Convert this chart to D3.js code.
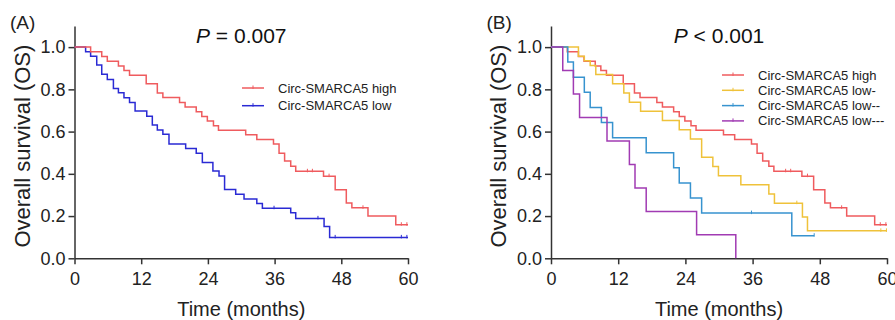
<!DOCTYPE html>
<html>
<head>
<meta charset="utf-8">
<script src="https://cdn.jsdelivr.net/npm/d3@7/dist/d3.min.js"></script>
<style>
  body { margin: 0; background: #fff; }
  svg { display: block; font-family: "Liberation Sans", Arial, sans-serif; }
</style>
</head>
<body>
<div id="chart"></div>
<script>
// --- Data (months, survival probability) ---
const xTicks = [0, 12, 24, 36, 48, 60];
const yTicks = [0, 0.2, 0.4, 0.6, 0.8, 1.0];

// Circ-SMARCA5 high (same group in both panels)
const highTimes = [0, 2.9, 4.9, 5.9, 7.9, 8.9, 9.9, 12.9, 14.9, 15.9, 18.9, 19.9, 21.9, 22.9, 23.9, 25.0, 25.9,
                   30.8, 32.8, 35.8, 36.8, 37.8, 38.9, 39.8, 44.8, 46.9, 48.9, 49.9, 52.8, 57.8];
const highSurv = [1, 0.978, 0.956, 0.933, 0.911, 0.889, 0.867, 0.826, 0.783, 0.761, 0.738, 0.716, 0.694, 0.672, 0.650, 0.628, 0.606,
                  0.585, 0.563, 0.541, 0.497, 0.461, 0.436, 0.412, 0.389, 0.325, 0.262, 0.239, 0.200, 0.159];
const highCensor = [41.9, 42.8, 45.8, 51.9, 58.8, 59.8];
const highEnd = 60;

// Panel A: Circ-SMARCA5 low
const lowTimes = [0, 2.0, 2.9, 4.0, 4.9, 5.9, 7.0, 7.9, 8.9, 9.9, 10.9, 13.0, 14.0, 14.9, 15.9, 17.0, 20.0, 21.9,
                  23.0, 24.9, 26.0, 27.0, 29.0, 30.5, 32.8, 33.8, 38.9, 39.8, 44.9, 45.9];
const lowSurv = [1, 0.978, 0.957, 0.915, 0.871, 0.847, 0.804, 0.784, 0.760, 0.738, 0.697, 0.673, 0.631, 0.607, 0.587, 0.541, 0.520, 0.497,
                 0.454, 0.413, 0.390, 0.326, 0.303, 0.281, 0.260, 0.237, 0.216, 0.189, 0.151, 0.099];
const lowCensor = [35.9, 43.8, 46.9, 58.8, 59.8];
const lowEnd = 60;

// Panel B: low-, low--, low---
const low1Times = [0, 4.9, 5.95, 7.0, 8.0, 11.0, 13.0, 14.0, 16.0, 19.9, 22.9, 24.9, 26.9, 28.9, 29.9, 33.9, 38.9, 39.9, 44.9, 45.8];
const low1Surv = [1, 0.957, 0.935, 0.913, 0.870, 0.826, 0.783, 0.739, 0.696, 0.652, 0.609, 0.565, 0.478, 0.435, 0.391, 0.348, 0.304, 0.261, 0.196, 0.130];
const low1Censor = [43.9, 58.9, 59.9];
const low1End = 60;

const low2Times = [0, 3.0, 4.0, 5.95, 7.0, 9.0, 11.0, 17.0, 21.9, 22.9, 24.9, 26.9, 43.0];
const low2Surv = [1, 0.929, 0.857, 0.786, 0.714, 0.643, 0.571, 0.5, 0.429, 0.357, 0.286, 0.214, 0.107];
const low2Censor = [35.8, 47];
const low2End = 47;

const low3Times = [0, 2.1, 4.0, 5.1, 10.0, 14.0, 15.0, 17.0, 26.0, 33.0];
const low3Surv = [1, 0.889, 0.778, 0.667, 0.556, 0.444, 0.333, 0.222, 0.111, 0];
const low3Censor = [];
const low3End = 33;

const names = ['Circ-SMARCA5 high', 'Circ-SMARCA5 low', 'Circ-SMARCA5 low-', 'Circ-SMARCA5 low--', 'Circ-SMARCA5 low---'];

const W = 895, H = 320;
const svg = d3.select('#chart').append('svg')
    .attr('width', W)
    .attr('height', H)
    .attr('viewBox', [0, 0, W, H]);

const COL = {
    high: '#ef5b5e',
    low: '#2a2ad4',
    low1: '#efc23a',
    low2: '#3793cf',
    low3: '#a13bb3'
};

function series(name, times, surv, censor, end, color) {
    return { name, times, surv, censor, end, color };
}

const panels = [
    {
        x0: 74.5, x1: 408, tag: '(A)', pOp: ' = 0.007',
        legendX: 242, legendY: 88, legendStep: 17.7,
        // draw order: blue under red
        draw: [
            series(names[1], lowTimes, lowSurv, lowCensor, lowEnd, COL.low),
            series(names[0], highTimes, highSurv, highCensor, highEnd, COL.high)
        ],
        legend: [0, 1]
    },
    {
        x0: 551, x1: 887, tag: '(B)', pOp: ' < 0.001',
        legendX: 722, legendY: 75, legendStep: 15.3,
        draw: [
            series(names[0], highTimes, highSurv, highCensor, highEnd, COL.high),
            series(names[2], low1Times, low1Surv, low1Censor, low1End, COL.low1),
            series(names[3], low2Times, low2Surv, low2Censor, low2End, COL.low2),
            series(names[4], low3Times, low3Surv, low3Censor, low3End, COL.low3)
        ],
        legend: [0, 1, 2, 3]
    }
];

const yTop = 26, yBottom = 258.3;

panels.forEach(p => {
    const x = d3.scaleLinear().domain([0, 60]).range([p.x0, p.x1]);
    const y = d3.scaleLinear().domain([0, 1.1]).range([yBottom, yTop]);
    const g = svg.append('g');

    // Axes
    const yAxis = g.append('g')
        .attr('transform', `translate(${p.x0},0)`)
        .call(d3.axisLeft(y).tickValues(yTicks).tickFormat(d3.format('.1f')).tickSize(6).tickPadding(3).tickSizeOuter(0));
    const xAxis = g.append('g')
        .attr('transform', `translate(0,${yBottom})`)
        .call(d3.axisBottom(x).tickValues(xTicks).tickSize(6).tickPadding(8).tickSizeOuter(0));
    [xAxis, yAxis].forEach(a => {
        a.select('.domain').attr('stroke', '#333').attr('stroke-width', 1.5);
        a.selectAll('.tick line').attr('stroke', '#333').attr('stroke-width', 1.5);
        a.selectAll('.tick text').attr('fill', '#222').style('font-size', '18px')
            .style('font-family', '"Liberation Sans", Arial, sans-serif');
    });

    // Axis titles
    g.append('text')
        .attr('transform', `translate(${p.x0 - 45},${(yBottom + yTop) / 2 + 4}) rotate(-90)`)
        .attr('text-anchor', 'middle')
        .attr('fill', '#222')
        .style('font-size', '22px')
        .text('Overall survival (OS)');
    g.append('text')
        .attr('x', (p.x0 + p.x1) / 2)
        .attr('y', 316)
        .attr('text-anchor', 'middle')
        .attr('fill', '#222')
        .style('font-size', '20px')
        .text('Time (months)');

    // Panel tag and p value
    g.append('text')
        .attr('x', p.x0 - 64.5)
        .attr('y', 29)
        .attr('fill', '#222')
        .style('font-size', '19px')
        .text(p.tag);
    const pt = g.append('text')
        .attr('x', (p.x0 + p.x1) / 2)
        .attr('y', 43)
        .attr('text-anchor', 'middle')
        .attr('fill', '#111')
        .style('font-size', '21px');
    pt.append('tspan').style('font-style', 'italic').text('P');
    pt.append('tspan').text(p.pOp);

    // KM curves
    const line = d3.line()
        .x(d => x(d[0]))
        .y(d => y(d[1]))
        .curve(d3.curveStepAfter);

    p.draw.forEach(s => {
        const pts = s.times.map((t, i) => [t, s.surv[i]]);
        pts.push([s.end, s.surv[s.surv.length - 1]]);
        g.append('path')
            .datum(pts)
            .attr('fill', 'none')
            .attr('stroke', s.color)
            .attr('stroke-width', 1.5)
            .attr('d', line);

        const survAt = t => {
            let v = s.surv[0];
            s.times.forEach((tt, i) => { if (tt <= t) v = s.surv[i]; });
            return v;
        };
        g.selectAll(null)
            .data(s.censor)
            .join('line')
            .attr('x1', d => x(d))
            .attr('x2', d => x(d))
            .attr('y1', d => y(survAt(d)) - 2.5)
            .attr('y2', d => y(survAt(d)) + 1)
            .attr('stroke', s.color)
            .attr('stroke-width', 1);
    });

    // Legend
    const byName = {};
    p.draw.forEach(s => { byName[s.name] = s; });
    const order = p === panels[0] ? [names[0], names[1]] : [names[0], names[2], names[3], names[4]];
    order.forEach((nm, i) => {
        const s = byName[nm];
        const ly = p.legendY + i * p.legendStep;
        g.append('line')
            .attr('x1', p.legendX).attr('x2', p.legendX + 22)
            .attr('y1', ly).attr('y2', ly)
            .attr('stroke', s.color).attr('stroke-width', 1.5);
        g.append('line')
            .attr('x1', p.legendX + 11).attr('x2', p.legendX + 11)
            .attr('y1', ly - 2.5).attr('y2', ly + 1)
            .attr('stroke', s.color).attr('stroke-width', 1);
        g.append('text')
            .attr('x', p.legendX + 36)
            .attr('y', ly)
            .attr('dy', '0.35em')
            .attr('fill', '#222')
            .style('font-size', '13px')
            .text(nm);
    });
});
</script>
</body>
</html>
